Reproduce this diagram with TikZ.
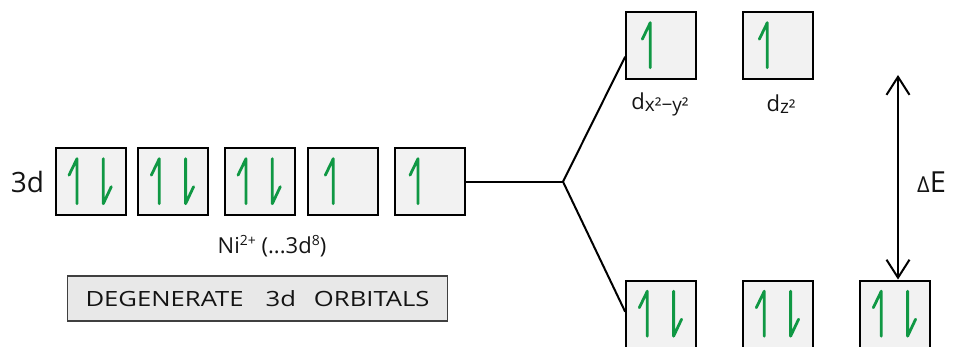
\documentclass[tikz,border=0pt]{standalone}
\usepackage{fontspec}
\setmainfont{Open Sans}
\usetikzlibrary{arrows.meta}
\definecolor{spingreen}{RGB}{16,152,68}
\definecolor{boxfill}{RGB}{242,242,242}
\definecolor{bandfill}{RGB}{232,232,232}
\newcommand{\wide}[1]{\scalebox{1.22}[1]{#1}}
\newcommand{\upper}[1]{\raisebox{8pt}{\fontsize{14}{14}\selectfont #1}}
\tikzset{
  orb/.style={draw=black, line width=2.3pt, fill=boxfill, minimum width=70pt,
    minimum height=67pt, inner sep=0pt},
  spin/.style={draw=spingreen, line width=2.8pt, line cap=round, line join=round},
  conn/.style={draw=black, line width=2pt},
  upspin/.pic={\draw[spin] (-8,-6.5) -- (0,-23) -- (0,22);},
  downspin/.pic={\draw[spin] (0,-23) -- (0,22) -- (8,5);},
  lbl/.style={inner sep=0pt, text=black!92}
}
\begin{document}
\begin{tikzpicture}[x=1pt,y=-1pt]
\useasboundingbox (0,0) rectangle (953,347);

% degenerate 3d set
\node[lbl, font=\fontsize{28}{28}\selectfont] (l3d) at (27.5,181.7) {3d};
\node[orb] (b1) at (91,181.7) {};
\node[orb] (b2) at (173.3,181.7) {};
\node[orb] (b3) at (260,181.7) {};
\node[orb] (b4) at (343.3,181.7) {};
\node[orb] (b5) at (430,181.7) {};
\foreach \b in {b1,b2,b3}{
  \pic at ([xshift=-14pt]\b.center) {upspin};
  \pic at ([xshift=12.3pt]\b.center) {downspin};
}
\pic at ([xshift=-10pt]b4.center) {upspin};
\pic at ([xshift=-12pt]b5.center) {upspin};
\node[lbl, font=\fontsize{22}{22}\selectfont] (ion) at (272,246)
  {Ni\upper{2+} (...3d\upper{8})};
\node[draw=black!75, line width=1.5pt, fill=bandfill, minimum width=380pt,
  minimum height=45pt, inner sep=0pt, font=\fontsize{21}{21}\selectfont,
  text=black!92] (deg) at (257.5,298.5)
  {\wide{DEGENERATE}\hspace{22pt}\wide{3d}\hspace{18pt}\wide{ORBITALS}};

% split levels
\node[orb] (t1) at (661.3,45.7) {};
\node[orb] (t2) at (778.3,45.7) {};
\pic at ([xshift=-11pt]t1.center) {upspin};
\pic at ([xshift=-11pt]t2.center) {upspin};
\node[lbl, font=\fontsize{22}{22}\selectfont] (dxy) at (660,104)
  {d\raisebox{-2pt}{\fontsize{19}{19}\selectfont x²−y²}};
\node[lbl, font=\fontsize{22}{22}\selectfont] (dz) at (781,104)
  {d\raisebox{-2pt}{\fontsize{19}{19}\selectfont z²}};

\node[orb] (l1) at (661.3,314.2) {};
\node[orb] (l2) at (778.3,314.2) {};
\node[orb] (l3) at (895.3,314.2) {};
\foreach \b in {l1,l2,l3}{
  \pic at ([xshift=-14pt]\b.center) {upspin};
  \pic at ([xshift=12.3pt]\b.center) {downspin};
}

% splitting connectors
\coordinate (j) at (563,181.7);
\draw[conn] (b5.east) -- (j);
\draw[conn] (j) -- ([yshift=-11pt]t1.west);
\draw[conn] (j) -- ([yshift=2.5pt]l1.west);

% energy gap
\coordinate (etop) at (898,75);
\draw[black, line width=2pt, {Straight Barb[length=18pt,width=23pt,line width=2pt]}-{Straight Barb[length=18pt,width=23pt,line width=2pt]}]
  (etop) -- (etop |- l3.north);
\node[lbl, font=\fontsize{29}{29}\selectfont, anchor=west] (de) at (917,182)
  {{\fontsize{22}{22}\selectfont Δ}E};
\end{tikzpicture}
\end{document}
